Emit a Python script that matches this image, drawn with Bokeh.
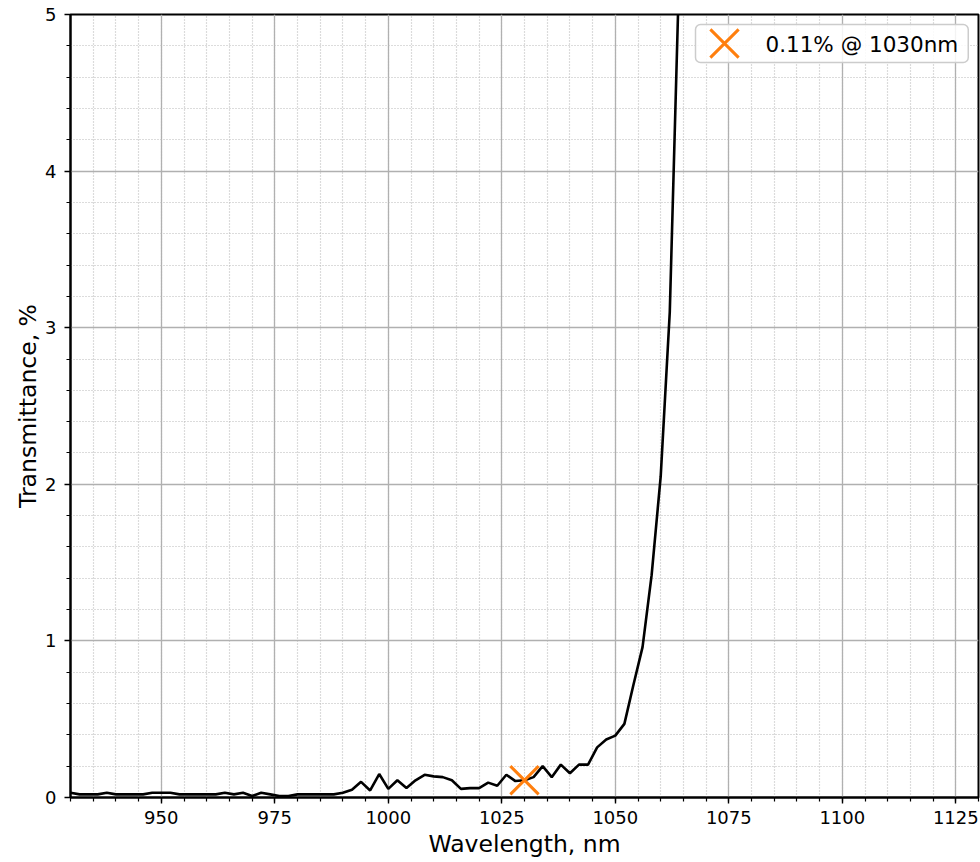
from bokeh.plotting import figure
from bokeh.models import SingleIntervalTicker, Range1d, Label
from bokeh.embed import file_html
from bokeh.resources import INLINE

# ---- data ----
wavelength = list(range(930, 1068, 2))
transmittance = [
    0.03, 0.02, 0.02, 0.02, 0.03, 0.02, 0.02, 0.02, 0.02, 0.03,
    0.03, 0.03, 0.02, 0.02, 0.02, 0.02, 0.02, 0.03, 0.02, 0.03,
    0.01, 0.03, 0.02, 0.01, 0.01, 0.02, 0.02, 0.02, 0.02, 0.02,
    0.03, 0.05, 0.10, 0.045, 0.15, 0.055, 0.11, 0.06, 0.11, 0.145,
    0.135, 0.13, 0.11, 0.055, 0.06, 0.06, 0.095, 0.075, 0.145, 0.105,
    0.11, 0.13, 0.20, 0.13, 0.21, 0.155, 0.21, 0.21, 0.32, 0.37,
    0.395, 0.47, 0.72, 0.96, 1.42, 2.05, 3.1, 5.2, 7.8,
]
marker_wavelength = [1030]
marker_value = [0.11]
legend_label = "0.11% @ 1030nm"
x_label = "Wavelength, nm"
y_label = "Transmittance, %"
x_limits = (930, 1130)
y_limits = (0, 5)

FONT = "DejaVu Sans"
ORANGE = "#ff7f0e"
FRAME_W, FRAME_H = 908, 783

p = figure(
    width=980, height=862,
    x_range=Range1d(*x_limits), y_range=Range1d(*y_limits),
    output_backend="svg", toolbar_location=None,
    min_border_left=70, min_border_right=2, min_border_top=14, min_border_bottom=65,
    background_fill_color="white", border_fill_color="white",
)
p.outline_line_color = "black"
p.outline_line_width = 2

# pixel-like helper ranges used only to place the legend sample marker
p.extra_x_ranges = {"legend_x": Range1d(0, FRAME_W)}
p.extra_y_ranges = {"legend_y": Range1d(0, FRAME_H)}

xt = SingleIntervalTicker(interval=25, num_minor_ticks=5)
yt = SingleIntervalTicker(interval=1, num_minor_ticks=5)
p.xaxis.ticker = xt
p.yaxis.ticker = yt
p.xgrid.ticker = xt
p.ygrid.ticker = yt

for ax in (p.xaxis, p.yaxis):
    ax.axis_line_color = "black"
    ax.axis_line_width = 2
    ax.major_tick_in = 0
    ax.major_tick_out = 6
    ax.minor_tick_in = 0
    ax.minor_tick_out = 4
    ax.major_tick_line_width = 1.4
    ax.minor_tick_line_width = 1.2
    ax.major_tick_line_color = "black"
    ax.minor_tick_line_color = "black"
    ax.major_label_text_font = FONT
    ax.major_label_text_font_size = "18px"
    ax.major_label_text_color = "black"
    ax.axis_label_text_font = FONT
    ax.axis_label_text_font_size = "23.5px"
    ax.axis_label_text_font_style = "normal"
    ax.axis_label_text_color = "black"

p.xaxis.axis_label = x_label
p.yaxis.axis_label = y_label
p.xaxis.major_label_standoff = 7
p.xaxis.axis_label_standoff = 3
p.yaxis.major_label_standoff = 8
p.yaxis.axis_label_standoff = 0

for g in (p.xgrid, p.ygrid):
    g.grid_line_color = "#b0b0b0"
    g.grid_line_width = 1.3
    g.minor_grid_line_color = "#b8b8b8"
    g.minor_grid_line_width = 1.2
    g.minor_grid_line_dash = "1 2"

p.line(wavelength, transmittance, line_color="black", line_width=2.6)
p.scatter(marker_wavelength, marker_value, marker="x", size=40,
          line_color=ORANGE, line_width=3)

# legend: box + text, with the same marker as sample
legend_box = Label(
    x=625, y=754, x_units="screen", y_units="screen",
    text=legend_label, text_font=FONT, text_font_size="21.5px", text_color="black",
    text_align="left", text_baseline="middle",
    padding=dict(left=70, right=10, top=7, bottom=6),
    background_fill_color="white", background_fill_alpha=0.85,
    border_line_color="#cccccc", border_line_width=1.5, border_radius=5,
)
p.add_layout(legend_box)
p.scatter([654], [754], marker="x", size=40, line_color=ORANGE, line_width=3,
          x_range_name="legend_x", y_range_name="legend_y", level="overlay")

open("out.html", "w").write(file_html(p, INLINE))
